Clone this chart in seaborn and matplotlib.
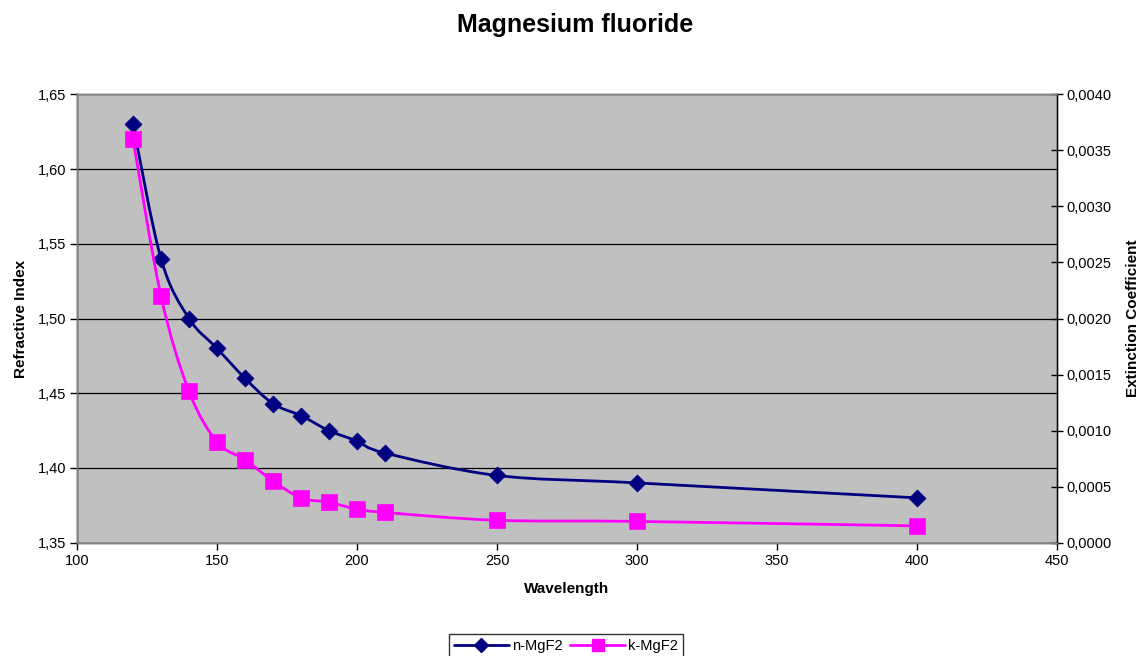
import numpy as np
import matplotlib
matplotlib.use("Agg")
import matplotlib.pyplot as plt
import seaborn as sns
from matplotlib.path import Path
from matplotlib.patches import PathPatch
from matplotlib.lines import Line2D
from matplotlib.ticker import FuncFormatter, MultipleLocator

wavelength = [120, 130, 140, 150, 160, 170, 180, 190, 200, 210, 250, 300, 400]
n_mgf2 = [1.63, 1.54, 1.50, 1.48, 1.46, 1.443, 1.435, 1.425, 1.418, 1.41, 1.395, 1.39, 1.38]
k_mgf2 = [0.0036, 0.0022, 0.00135, 0.0009, 0.00074, 0.00055, 0.0004, 0.00036, 0.0003,
          0.00027, 0.0002, 0.00019, 0.00015]

sns.set_theme(style="white")
plt.rcParams['font.family'] = ['Liberation Sans', 'DejaVu Sans']
plt.rcParams['text.color'] = 'black'
plt.rcParams['axes.labelcolor'] = 'black'
plt.rcParams['xtick.color'] = 'black'
plt.rcParams['ytick.color'] = 'black'

fig = plt.figure(figsize=(11.38, 6.56), dpi=100)
ax = fig.add_axes([77/1138, 1-542.7/656, (1057-77)/1138, (542.7-94.3)/656])
ax2 = ax.twinx()

XLIM = (100, 450)
YLIM = (1.35, 1.65)
Y2LIM = (0.0, 0.004)
ax.set_xlim(*XLIM); ax.set_ylim(*YLIM)
ax2.set_ylim(*Y2LIM)
ax.set_facecolor('#C0C0C0')
ax.yaxis.set_major_locator(MultipleLocator(0.05))
ax.xaxis.set_major_locator(MultipleLocator(50))
ax2.yaxis.set_major_locator(MultipleLocator(0.0005))
ax.grid(True, axis='y', color='black', linewidth=0.9)
ax.grid(False, axis='x')
ax2.grid(False)
ax.set_axisbelow(True)

ax.yaxis.set_major_formatter(FuncFormatter(lambda v, p: f"{v:.2f}".replace('.', ',')))
ax2.yaxis.set_major_formatter(FuncFormatter(lambda v, p: f"{v:.4f}".replace('.', ',')))
ax.xaxis.set_major_formatter(FuncFormatter(lambda v, p: f"{v:.0f}"))

for a in (ax, ax2):
    for s in a.spines.values():
        s.set_color('#808080'); s.set_linewidth(1.0)
ax.spines['left'].set_color('black'); ax.spines['bottom'].set_color('#404040')
ax2.spines['right'].set_color('black')
ax.tick_params(axis='both', labelsize=10.5, length=5, width=1, color='black', direction='out',
               left=True, bottom=True, pad=3, labelcolor='black')
ax2.tick_params(axis='y', labelsize=10.5, length=8, width=1, color='black', direction='inout',
                right=True, pad=3, labelcolor='black')


def smooth_path(xs, ys, ylim):
    # Excel-style smoothed line: cubic Bezier with Catmull-Rom control points in axes coords
    px = (np.asarray(xs, float) - XLIM[0]) / (XLIM[1] - XLIM[0]) * 980
    py = (np.asarray(ys, float) - ylim[0]) / (ylim[1] - ylim[0]) * 448.4
    pts = np.column_stack([px, py])
    verts = [pts[0]]
    codes = [Path.MOVETO]
    n = len(pts)
    for i in range(n - 1):
        p0 = pts[i - 1] if i > 0 else pts[i]
        p1 = pts[i]
        p2 = pts[i + 1]
        p3 = pts[i + 2] if i + 2 < n else pts[i + 1]
        c1 = p1 + (p2 - p0) / 6.0
        c2 = p2 - (p3 - p1) / 6.0
        verts += [c1, c2, p2]
        codes += [Path.CURVE4] * 3
    verts = np.array(verts)
    verts[:, 0] /= 980
    verts[:, 1] /= 448.4
    return Path(verts, codes)


navy = '#000080'
pink = '#FF00FF'
ax.add_patch(PathPatch(smooth_path(wavelength, n_mgf2, YLIM), facecolor='none',
                       edgecolor=navy, linewidth=2.0, transform=ax.transAxes, zorder=3))
ax2.add_patch(PathPatch(smooth_path(wavelength, k_mgf2, Y2LIM), facecolor='none',
                        edgecolor=pink, linewidth=2.0, transform=ax2.transAxes, zorder=3))

sns.scatterplot(x=wavelength, y=n_mgf2, ax=ax, marker='D', s=75, color=navy,
                edgecolor=navy, linewidth=0.5, zorder=4, legend=False)
sns.scatterplot(x=wavelength, y=k_mgf2, ax=ax2, marker='s', s=125, color=pink,
                edgecolor=pink, linewidth=0.5, zorder=4, legend=False)
ax.set_xlim(*XLIM); ax.set_ylim(*YLIM); ax2.set_ylim(*Y2LIM)

ax.set_xlabel('Wavelength', fontsize=11, fontweight='bold', labelpad=10)
ax.set_ylabel('Refractive Index', fontsize=11, fontweight='bold', labelpad=7)
ax2.set_ylabel('Extinction Coefficient', fontsize=11, fontweight='bold', labelpad=10)
fig.text(575/1138, 1-25/656, 'Magnesium fluoride', ha='center', va='center',
         fontsize=18, fontweight='bold', color='black')

handles = [Line2D([0], [0], color=navy, lw=2, marker='D', markersize=7),
           Line2D([0], [0], color=pink, lw=2, marker='s', markersize=9)]
leg = fig.legend(handles, ['n-MgF2', 'k-MgF2'], loc='upper center', ncol=2,
                 bbox_to_anchor=(566/1138, 1-627/656), fontsize=10.5, frameon=True,
                 fancybox=False, edgecolor='black', handlelength=3.8, columnspacing=0.5,
                 handletextpad=0.2, borderpad=0.35)
leg.get_frame().set_linewidth(1.0)

fig.savefig('out.png', dpi=100)
